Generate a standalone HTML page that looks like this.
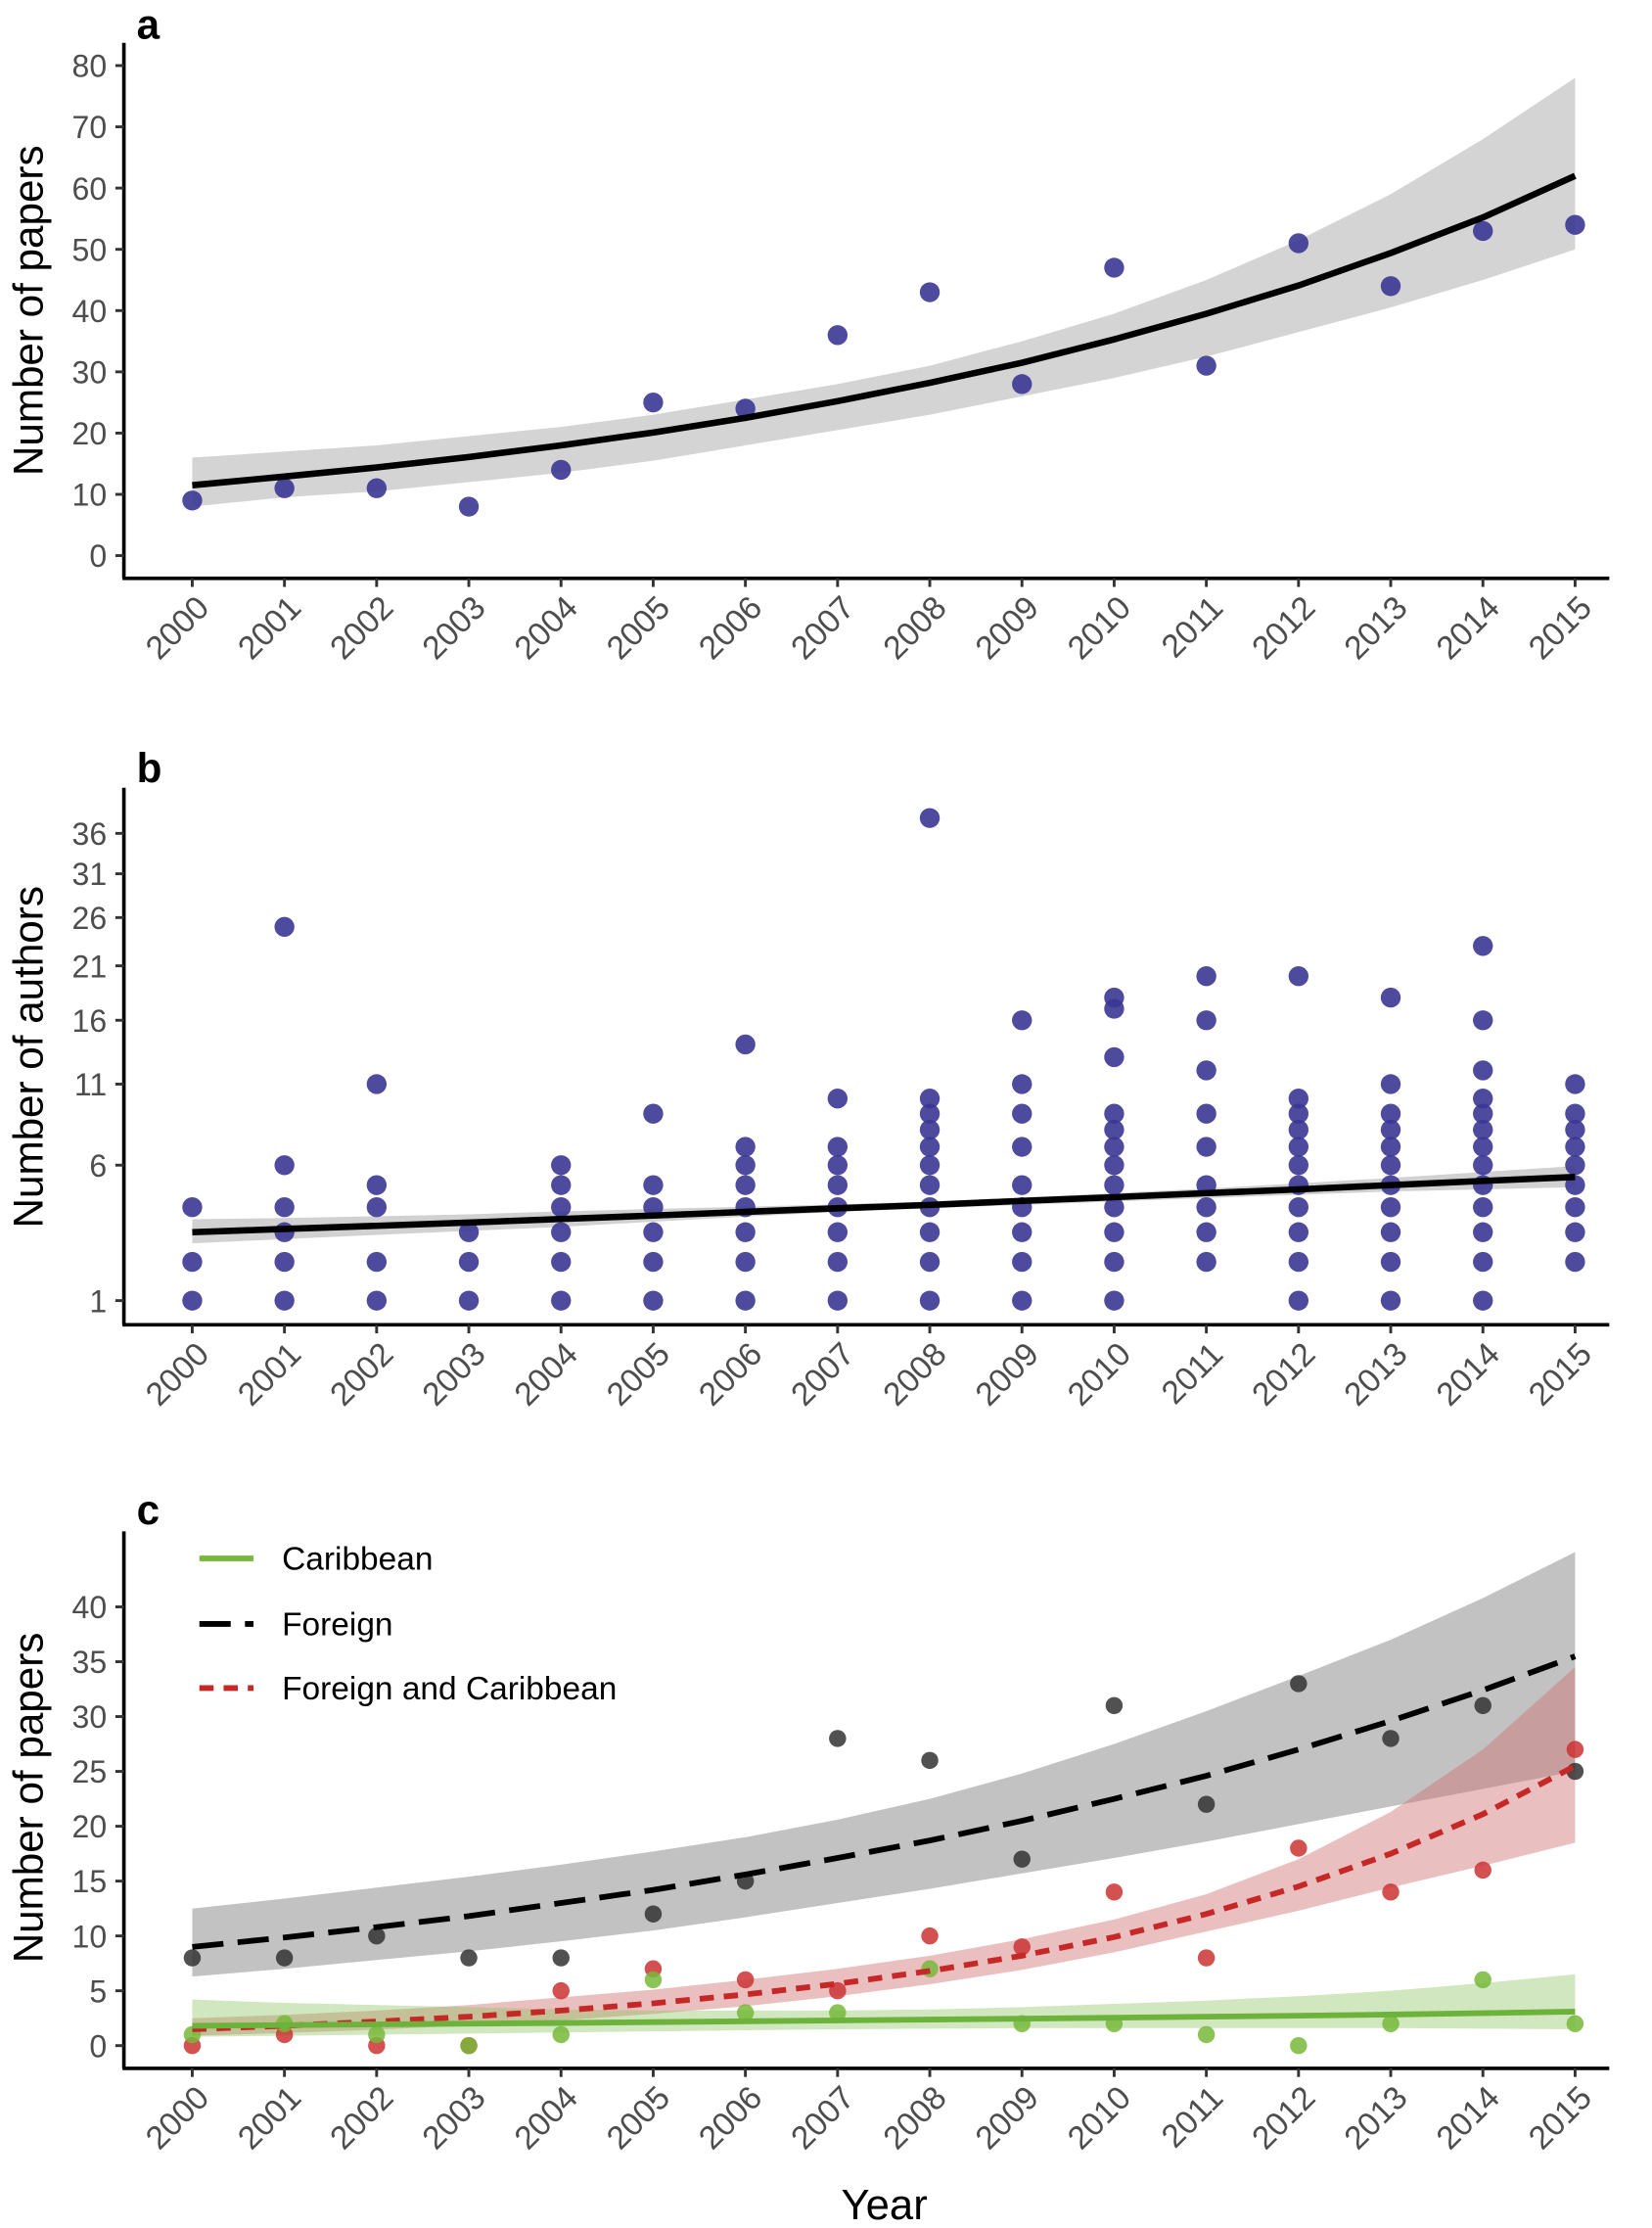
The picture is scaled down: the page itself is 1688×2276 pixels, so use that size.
<!DOCTYPE html>
<html><head><meta charset="utf-8"><style>
html,body{margin:0;padding:0;background:#fff}
svg{display:block;font-family:"Liberation Sans",Arial,sans-serif}
</style></head><body>
<svg id="chart" xmlns="http://www.w3.org/2000/svg" width="1688" height="2276" viewBox="0 0 1160 1564"></svg>
<script>
const years=[2000,2001,2002,2003,2004,2005,2006,2007,2008,2009,2010,2011,2012,2013,2014,2015];
// Panel a
const aPapers=[9,11,11,8,14,25,24,36,43,28,47,31,51,44,53,54];
const aFit=[11.5,12.9,14.4,16.1,18.0,20.1,22.5,25.2,28.2,31.5,35.3,39.5,44.1,49.4,55.2,62];
const aLo=[8,9.5,10.5,12,13.5,15.5,18,20.5,23,26,29,32.5,36.5,40.5,45,50];
const aHi=[16,17,18,19.5,21,23,25.5,28,31,35,39.5,45,51.5,59,68,78];
const aTicks=[0,10,20,30,40,50,60,70,80];
// Panel b
const bAuthors=[[1,2,4],[1,2,3,4,6,25],[1,2,4,5,11],[1,2,3],[1,2,3,4,5,6],[1,2,3,4,5,9],[1,2,3,4,5,6,7,14],[1,2,3,4,5,6,7,10],[1,2,3,4,5,6,7,8,9,10,38],[1,2,3,4,5,7,9,11,16],[1,2,3,4,5,6,7,8,9,13,17,18],[2,3,4,5,7,9,12,16,20],[1,2,3,4,5,6,7,8,9,10,20],[1,2,3,4,5,6,7,8,9,11,18],[1,2,3,4,5,6,7,8,9,10,12,16,23],[2,3,4,5,6,7,8,9,11]];
const bFit=[3,3.12,3.24,3.37,3.51,3.65,3.8,3.95,4.1,4.27,4.44,4.62,4.8,5.0,5.2,5.4];
const bLo=[2.6,2.75,2.9,3.05,3.2,3.4,3.6,3.8,3.95,4.1,4.25,4.4,4.55,4.7,4.8,4.9];
const bHi=[3.5,3.55,3.62,3.7,3.82,3.92,4.02,4.12,4.25,4.42,4.62,4.84,5.08,5.35,5.65,5.95];
const bTicks=[1,6,11,16,21,26,31,36];
// Panel c
const cForeign=[8,8,10,8,8,12,15,28,26,17,31,22,33,28,31,25];
const cForeignFit=[9,9.86,10.8,11.8,13,14.2,15.6,17.1,18.7,20.5,22.5,24.6,27,29.6,32.4,35.5];
const cForeignLo=[6.3,7,7.8,8.6,9.5,10.5,11.7,13,14.3,15.7,17.1,18.6,20.2,21.8,23.4,25];
const cForeignHi=[12.5,13.4,14.4,15.4,16.5,17.7,19,20.6,22.5,24.8,27.5,30.5,33.7,37,40.8,45];
const cBoth=[0,1,0,0,5,7,6,5,10,9,14,8,18,14,16,27];
const cBothFit=[1.5,1.81,2.19,2.64,3.2,3.86,4.66,5.63,6.8,8.2,9.9,12,14.5,17.5,21.1,25.5];
const cBothLo=[0.9,1.15,1.45,1.85,2.3,2.9,3.6,4.5,5.6,6.9,8.5,10.4,12.3,14.4,16.4,18.5];
const cBothHi=[2.5,2.8,3.2,3.7,4.4,5.1,6,7,8.2,9.7,11.5,13.8,17,21.3,27,34.5];
const cCarib=[1,2,1,0,1,6,3,3,7,2,2,1,0,2,6,2];
const cCaribFit=[1.8,1.87,1.93,2.0,2.07,2.14,2.22,2.3,2.38,2.46,2.55,2.64,2.73,2.83,2.96,3.1];
const cCaribLo=[0.8,0.9,1.0,1.1,1.2,1.3,1.4,1.5,1.55,1.6,1.6,1.6,1.6,1.6,1.55,1.5];
const cCaribHi=[4.2,3.9,3.7,3.5,3.3,3.2,3.2,3.2,3.3,3.5,3.8,4.1,4.5,5,5.7,6.5];
const cTicks=[0,5,10,15,20,25,30,35,40];

const svg=document.getElementById('chart');
const NS='http://www.w3.org/2000/svg';
function mk(tag,attrs,parent,text){const e=document.createElementNS(NS,tag);for(const k in attrs)e.setAttribute(k,attrs[k]);if(text!==undefined)e.textContent=text;(parent||svg).appendChild(e);return e;}
const xs=y=>135+(y-2000)*(1106-135)/15;
function ptsPath(fx,fy,arr){return arr.map((v,i)=>(i?'L':'M')+fx(years[i]).toFixed(1)+','+fy(v).toFixed(1)).join('');}
function band(fy,lo,hi){let d=ptsPath(xs,fy,hi);for(let i=lo.length-1;i>=0;i--)d+='L'+xs(years[i]).toFixed(1)+','+fy(lo[i]).toFixed(1);return d+'Z';}

function axes(g,name,top,axisY,ticks,fy,title,letter,letterY,titleY){
  mk('line',{x1:87,y1:top,x2:87,y2:axisY,stroke:'#000','stroke-width':2.5},g);
  mk('line',{x1:86,y1:axisY,x2:1130,y2:axisY,stroke:'#000','stroke-width':2.5},g);
  ticks.forEach(t=>{const y=fy(t);
    mk('line',{x1:81,y1:y,x2:87,y2:y,stroke:'#333','stroke-width':2},g);
    const tl=mk('text',{x:75,y:y+8,'text-anchor':'end','font-size':22,fill:'#4d4d4d'},g,String(t));
    });
  years.forEach(yr=>{const x=xs(yr);
    mk('line',{x1:x,y1:axisY,x2:x,y2:axisY+6,stroke:'#333','stroke-width':2},g);
    const tl=mk('text',{x:x+13,y:axisY+22,'text-anchor':'end','font-size':23,fill:'#4d4d4d',transform:`rotate(-45 ${x+13} ${axisY+22})`},g,String(yr));
    });
  const t=mk('text',{x:30,y:titleY,'text-anchor':'middle','font-size':29,fill:'#000',transform:`rotate(-90 30 ${titleY})`},g,title);
  
  const l=mk('text',{x:96,y:letterY,'font-size':29,'font-weight':'bold',fill:'#000'},g,letter);
  
}

// Panel a
const ga=mk('g',{});
const fa=v=>390-v*(390-46)/80;
axes(ga,'panel-a',30,406,aTicks,fa,'Number of papers','a',27,218);
mk('path',{d:band(fa,aLo,aHi),fill:'#bdbdbd','fill-opacity':0.65},ga);
aPapers.forEach((v,i)=>{const c=mk('circle',{cx:xs(years[i]),cy:fa(v),r:7,fill:'#3b3795','fill-opacity':0.9},ga);});
mk('path',{d:ptsPath(xs,fa,aFit),fill:'none',stroke:'#000','stroke-width':4.5},ga);

// Panel b
const gb=mk('g',{});
const fb=v=>913-(Math.sqrt(v)-1)*65.6;
axes(gb,'panel-b',553,930,bTicks,fb,'Number of authors','b',549,742);
mk('path',{d:band(fb,bLo,bHi),fill:'#bdbdbd','fill-opacity':0.7},gb);
bAuthors.forEach((arr,i)=>arr.forEach(v=>{const c=mk('circle',{cx:xs(years[i]),cy:fb(v),r:7,fill:'#3b3795','fill-opacity':0.9},gb);}));
mk('path',{d:ptsPath(xs,fb,bFit),fill:'none',stroke:'#000','stroke-width':4.5},gb);

// Panel c
const gc=mk('g',{});
const fc=v=>1436-v*(1436-1128)/40;
axes(gc,'panel-c',1075,1452,cTicks,fc,'Number of papers','c',1070,1262);
mk('path',{d:band(fc,cForeignLo,cForeignHi),fill:'#999','fill-opacity':0.6},gc);
mk('path',{d:band(fc,cBothLo,cBothHi),fill:'#d07070','fill-opacity':0.45},gc);
mk('path',{d:band(fc,cCaribLo,cCaribHi),fill:'#8cc460','fill-opacity':0.4},gc);
[[cForeign,'#333','foreign-point'],[cBoth,'#cc3333','foreign-caribbean-point'],[cCarib,'#77b83a','caribbean-point']].forEach(([arr,col,nm])=>arr.forEach((v,i)=>{const c=mk('circle',{cx:xs(years[i]),cy:fc(v),r:6,fill:col,'fill-opacity':0.85},gc);}));
mk('path',{d:ptsPath(xs,fc,cForeignFit),fill:'none',stroke:'#000','stroke-width':4,'stroke-dasharray':'22 10'},gc);
mk('path',{d:ptsPath(xs,fc,cBothFit),fill:'none',stroke:'#c62828','stroke-width':4,'stroke-dasharray':'10 7'},gc);
mk('path',{d:ptsPath(xs,fc,cCaribFit),fill:'none',stroke:'#6db23a','stroke-width':4},gc);
// legend
const lg=mk('g',{},gc);
mk('line',{x1:140,y1:1094,x2:178,y2:1094,stroke:'#77b83a','stroke-width':4},lg);
mk('line',{x1:140,y1:1140,x2:178,y2:1140,stroke:'#000','stroke-width':4,'stroke-dasharray':'22 10'},lg);
mk('line',{x1:140,y1:1185,x2:178,y2:1185,stroke:'#c62828','stroke-width':4,'stroke-dasharray':'10 7'},lg);
[['Caribbean',1094],['Foreign',1140],['Foreign and Caribbean',1185]].forEach(([t,y])=>{const e=mk('text',{x:198,y:y+8,'font-size':23,fill:'#000'},lg,t);});
const xt=mk('text',{x:621,y:1558,'text-anchor':'middle','font-size':30,fill:'#000'},gc,'Year');

</script>
</body></html>
